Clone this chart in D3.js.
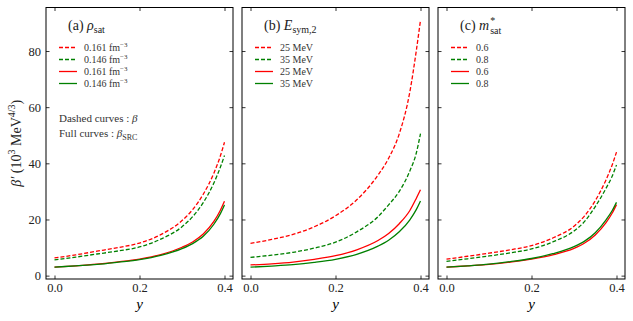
<!DOCTYPE html>
<html>
<head>
<meta charset="utf-8">
<script src="https://cdn.jsdelivr.net/npm/d3@7"></script>
<style>
body { margin: 0; background: #fff; }
svg text { font-family: "Liberation Serif", "DejaVu Serif", serif; }
</style>
</head>
<body>
<svg id="chart" width="633" height="321"></svg>
<script>
// asymmetry y grid shared by all curves
const yGrid = [0, 0.05, 0.1, 0.15, 0.2, 0.25, 0.3, 0.325, 0.35, 0.375, 0.39, 0.4]

// (a) rho_sat
const rhoBetaHigh = [6.3, 7.4, 8.7, 10.0, 11.6, 14.6, 19.6, 23.5, 29.0, 36.5, 42.5, 47.5]
const rhoBetaLow = [5.6, 6.6, 7.7, 8.8, 10.2, 13.0, 17.4, 21.0, 26.0, 33.0, 38.5, 42.8]
const rhoSrcHigh = [3.0, 3.5, 4.1, 4.9, 5.9, 7.5, 10.1, 12.0, 14.8, 19.3, 23.2, 26.5]
const rhoSrcLow = [3.0, 3.5, 4.0, 4.8, 5.7, 7.2, 9.6, 11.4, 14.0, 18.3, 22.0, 25.2]

// (b) Esym,2
const esymBeta25 = [11.5, 12.9, 14.7, 17.4, 21.3, 27.0, 35.8, 41.8, 50.5, 65.5, 80.0, 91.0]
const esymBeta35 = [6.5, 7.3, 8.3, 9.8, 11.9, 15.6, 21.0, 25.2, 30.0, 37.3, 43.6, 50.6]
const esymSrc25 = [3.8, 4.2, 4.8, 5.8, 7.1, 9.2, 12.5, 15.0, 18.5, 23.2, 27.5, 30.6]
const esymSrc35 = [3.0, 3.4, 3.9, 4.7, 5.8, 7.6, 10.5, 12.6, 15.6, 19.9, 23.5, 26.6]

// (c) m*sat
const mBeta06 = [5.9, 6.9, 8.0, 9.2, 10.7, 13.4, 17.6, 21.3, 26.7, 34.0, 39.5, 44.0]
const mBeta08 = [5.1, 6.0, 7.0, 8.1, 9.5, 12.0, 15.9, 19.3, 24.6, 31.0, 35.5, 39.4]
const mSrc06 = [3.0, 3.5, 4.0, 4.8, 5.9, 7.4, 9.7, 11.6, 14.5, 18.8, 22.3, 25.3]
const mSrc08 = [3.0, 3.5, 4.1, 5.0, 6.1, 7.8, 10.3, 12.3, 15.3, 19.8, 23.2, 26.1]

const rhoLabels = ['0.161', '0.146']
const esymLabels = ['25 MeV', '35 MeV']
const mLabels = ['0.6', '0.8']

const xTicks = [0, 0.2, 0.4]
const yTicks = [0, 20, 40, 60, 80]

const RED = '#ff0000', GREEN = '#008000'
const SERIF = '"Liberation Serif", "DejaVu Serif", serif'

const panels = [
  { left: 46, tag: '(a)', sym: 'ρ', sub: 'sat', sup: null, labels: rhoLabels, fm: true,
    series: [rhoBetaHigh, rhoBetaLow, rhoSrcHigh, rhoSrcLow] },
  { left: 242, tag: '(b)', sym: 'E', sub: 'sym,2', sup: null, labels: esymLabels, fm: false,
    series: [esymBeta25, esymBeta35, esymSrc25, esymSrc35] },
  { left: 438, tag: '(c)', sym: 'm', sub: 'sat', sup: '*', labels: mLabels, fm: false,
    series: [mBeta06, mBeta08, mSrc06, mSrc08] }
]
const styles = [
  { color: RED, dash: '4,2' }, { color: GREEN, dash: '4,2' },
  { color: RED, dash: null }, { color: GREEN, dash: null }
]

const W = 187, plotTop = 7.5, plotBottom = 279

const svg = d3.select('#chart')

const y = d3.scaleLinear().domain([-1.2, 95.5]).range([plotBottom, plotTop])

panels.forEach((p, pi) => {
  const x = d3.scaleLinear().domain([-0.02, 0.42]).range([p.left, p.left + W])
  const g = svg.append('g')

  // curves
  const line = d3.line().x((d, i) => x(yGrid[i])).y(d => y(d)).curve(d3.curveMonotoneX)
  p.series.forEach((s, si) => {
    g.append('path')
      .attr('d', line(s))
      .attr('fill', 'none')
      .attr('stroke', styles[si].color)
      .attr('stroke-width', 1.3)
      .attr('stroke-dasharray', styles[si].dash)
  })

  // axes, ticks inward on all four sides
  g.append('g').attr('transform', 'translate(0,' + plotBottom + ')')
    .call(d3.axisBottom(x).tickValues(xTicks).tickSize(-3.5).tickPadding(4.5).tickFormat(d3.format('.1f')))
  g.append('g').attr('transform', 'translate(0,' + plotTop + ')')
    .call(d3.axisTop(x).tickValues(xTicks).tickSize(-3.5).tickFormat(''))
  g.append('g').attr('transform', 'translate(' + p.left + ',0)')
    .call(d3.axisLeft(y).tickValues(yTicks).tickSize(-3.5).tickPadding(5).tickFormat(pi === 0 ? d3.format('d') : ''))
  g.append('g').attr('transform', 'translate(' + (p.left + W) + ',0)')
    .call(d3.axisRight(y).tickValues(yTicks).tickSize(-3.5).tickFormat(''))
  g.selectAll('.domain').remove()
  g.selectAll('.tick line').attr('stroke', '#000').attr('stroke-width', 0.8)
  g.selectAll('.tick text').attr('font-family', SERIF).attr('font-size', 12.5).attr('fill', '#222')

  g.append('rect')
    .attr('x', p.left).attr('y', plotTop).attr('width', W).attr('height', plotBottom - plotTop)
    .attr('fill', 'none').attr('stroke', '#000').attr('stroke-width', 1)

  // x label
  g.append('text')
    .attr('x', x(0.2)).attr('y', 309).attr('text-anchor', 'middle')
    .attr('font-size', 15).attr('font-style', 'italic').text('y')

  // panel title
  const t = g.append('text').attr('x', p.left + 22).attr('y', 30).attr('font-size', 14).attr('fill', '#222')
  t.append('tspan').text(p.tag + ' ')
  t.append('tspan').attr('font-style', 'italic').text(p.sym)
  if (p.sup) {
    t.append('tspan').attr('font-size', 10).attr('dy', -6).attr('dx', 1).text(p.sup)
    t.append('tspan').attr('font-size', 10).attr('dy', 10).attr('dx', -5).text(p.sub)
  } else {
    t.append('tspan').attr('font-size', 10).attr('dy', 3).text(p.sub)
  }

  // legend
  const lx = p.left + 13
  styles.forEach((st, si) => {
    const ly = 47.5 + si * 12
    g.append('line')
      .attr('x1', lx).attr('x2', lx + 18).attr('y1', ly).attr('y2', ly)
      .attr('stroke', st.color).attr('stroke-width', 1.3).attr('stroke-dasharray', st.dash)
    const lt = g.append('text').attr('x', lx + 25).attr('y', ly + 3.5).attr('font-size', 10).attr('fill', '#333')
    lt.append('tspan').text(p.labels[si % 2] + (p.fm ? ' fm' : ''))
    if (p.fm) lt.append('tspan').attr('font-size', 7).attr('dy', -4).text('−3')
  })

  if (pi === 0) {
    const n1 = g.append('text').attr('x', lx).attr('y', 122).attr('font-size', 11).attr('fill', '#333')
    n1.append('tspan').text('Dashed curves : ')
    n1.append('tspan').attr('font-style', 'italic').text('β')
    const n2 = g.append('text').attr('x', lx).attr('y', 137).attr('font-size', 11).attr('fill', '#333')
    n2.append('tspan').text('Full curves : ')
    n2.append('tspan').attr('font-style', 'italic').text('β')
    n2.append('tspan').attr('font-size', 8).attr('dy', 3).text('SRC')
  }
})

// y label
const yt = svg.append('text')
  .attr('transform', 'translate(21,' + ((plotTop + plotBottom) / 2) + ') rotate(-90)')
  .attr('text-anchor', 'middle').attr('font-size', 14).attr('fill', '#222')
yt.append('tspan').attr('font-style', 'italic').text('β′')
yt.append('tspan').text(' (10')
yt.append('tspan').attr('font-size', 10).attr('dy', -6).text('3')
yt.append('tspan').attr('dy', 6).text(' MeV')
yt.append('tspan').attr('font-size', 10).attr('dy', -6).text('4/3')
yt.append('tspan').attr('dy', 6).text(')')
</script>
</body>
</html>
